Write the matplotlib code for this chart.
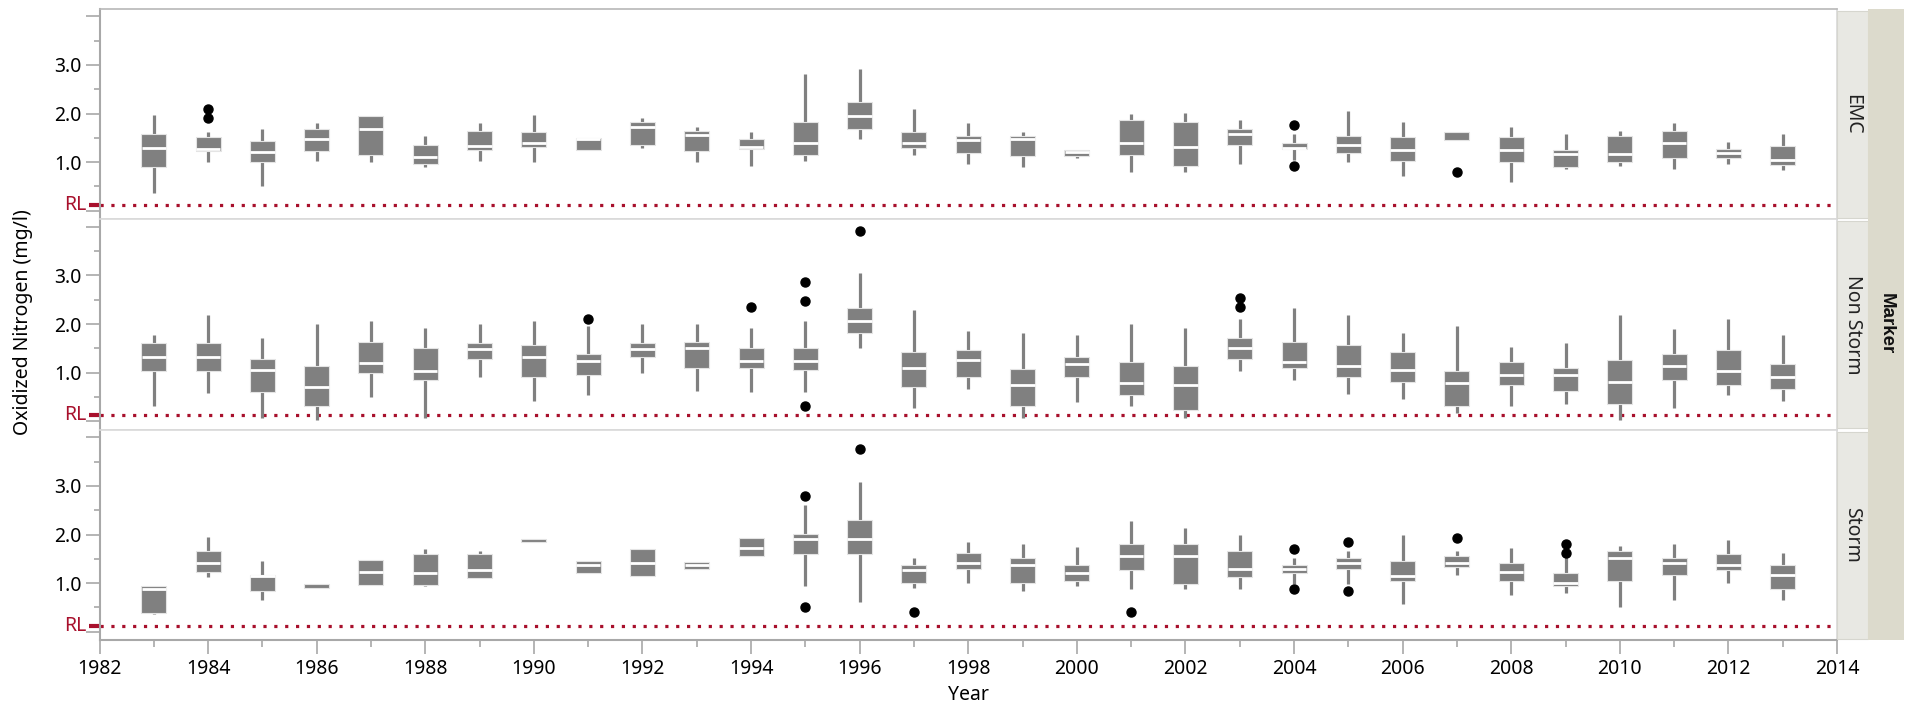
import numpy as np
import matplotlib.pyplot as plt
from matplotlib.transforms import blended_transform_factory
from matplotlib.patches import Rectangle

plt.rcParams['font.family'] = ['Noto Sans', 'DejaVu Sans']

years = list(range(1983, 2014))
markers = ['EMC', 'Non Storm', 'Storm']
rl_value = 0.12

# box summaries per year: whisker low, q1, median, q3, whisker high
emc_lo = [0.36, 1.01, 0.50, 1.03, 1.00, 0.90, 1.03, 1.00, 1.25, 1.30, 1.00, 0.93, 1.03, 1.47, 1.14, 0.97,
          0.90, 1.08, 0.79, 0.79, 0.97, 1.05, 1.00, 0.72, 1.46, 0.60, 0.86, 0.93, 0.86, 0.97, 0.84]
emc_q1 = [0.91, 1.22, 1.00, 1.22, 1.14, 0.97, 1.25, 1.32, 1.25, 1.36, 1.22, 1.28, 1.14, 1.69, 1.30, 1.18,
          1.12, 1.12, 1.14, 0.93, 1.36, 1.28, 1.18, 1.03, 1.46, 1.00, 0.90, 1.00, 1.08, 1.08, 0.94]
emc_med = [1.29, 1.27, 1.21, 1.47, 1.68, 1.11, 1.34, 1.39, 1.47, 1.72, 1.55, 1.32, 1.40, 1.95, 1.40, 1.45,
           1.47, 1.20, 1.40, 1.32, 1.58, 1.30, 1.35, 1.24, np.nan, 1.24, 1.17, 1.17, 1.39, 1.19, 1.05]
emc_q3 = [1.58, 1.51, 1.43, 1.68, 1.95, 1.36, 1.65, 1.62, 1.50, 1.83, 1.65, 1.47, 1.83, 2.23, 1.62, 1.54,
          1.54, 1.25, 1.87, 1.83, 1.69, 1.39, 1.54, 1.51, 1.62, 1.51, 1.25, 1.54, 1.65, 1.28, 1.33]
emc_hi = [1.97, 1.62, 1.68, 1.80, 1.95, 1.54, 1.80, 1.97, 1.50, 1.90, 1.72, 1.62, 2.81, 2.91, 2.09, 1.80,
          1.62, 1.25, 2.00, 2.01, 1.87, 1.58, 2.05, 1.83, 1.62, 1.73, 1.58, 1.65, 1.80, 1.41, 1.57]
emc_out_x = [1984, 1984, 2004, 2004, 2007]
emc_out_y = [2.09, 1.90, 1.77, 0.93, 0.79]

ns_lo = [0.32, 0.59, 0.06, 0.02, 0.50, 0.06, 0.92, 0.42, 0.53, 0.99, 0.63, 0.60, 0.60, 1.50, 0.28, 0.67,
         0.06, 0.39, 0.32, 0.06, 1.03, 0.85, 0.56, 0.45, 0.17, 0.32, 0.35, 0.02, 0.28, 0.53, 0.42]
ns_q1 = [1.03, 1.03, 0.60, 0.32, 0.99, 0.85, 1.28, 0.92, 0.96, 1.32, 1.10, 1.10, 1.06, 1.82, 0.71, 0.92,
         0.32, 0.92, 0.53, 0.24, 1.28, 1.10, 0.92, 0.81, 0.32, 0.74, 0.63, 0.35, 0.85, 0.74, 0.67]
ns_med = [1.32, 1.32, 1.06, 0.71, 1.19, 1.03, 1.49, 1.32, 1.24, 1.48, 1.51, 1.24, 1.24, 2.07, 1.10, 1.25,
          0.74, 1.17, 0.78, 0.74, 1.51, 1.22, 1.14, 1.06, 0.78, 0.96, 0.96, 0.81, 1.14, 1.03, 0.92]
ns_q3 = [1.60, 1.60, 1.28, 1.14, 1.64, 1.50, 1.60, 1.57, 1.39, 1.60, 1.64, 1.50, 1.50, 2.33, 1.42, 1.46,
         1.07, 1.32, 1.21, 1.14, 1.71, 1.64, 1.57, 1.42, 1.03, 1.21, 1.10, 1.25, 1.39, 1.46, 1.17]
ns_hi = [1.78, 2.18, 1.71, 2.00, 2.07, 1.92, 2.00, 2.07, 1.96, 2.00, 2.00, 1.92, 2.07, 3.04, 2.29, 1.86,
         1.82, 1.78, 2.00, 1.92, 2.11, 2.33, 2.18, 1.82, 1.96, 1.53, 1.60, 2.18, 1.89, 2.11, 1.78]
ns_out_x = [1991, 1994, 1995, 1995, 1995, 1996, 2003, 2003]
ns_out_y = [2.11, 2.36, 2.87, 2.47, 0.31, 3.91, 2.54, 2.36]

st_lo = [0.36, 1.13, 0.65, 0.90, 0.97, 0.94, 1.11, 1.84, 1.20, 1.15, 1.30, 1.55, 0.94, 0.62, 0.90, 1.01,
         0.83, 0.94, 0.87, 0.87, 0.87, 0.98, 0.98, 0.58, 1.16, 0.76, 0.80, 0.51, 0.65, 1.01, 0.65]
st_q1 = [0.39, 1.23, 0.83, 0.90, 0.97, 0.97, 1.11, 1.84, 1.20, 1.15, 1.30, 1.55, 1.59, 1.59, 1.01, 1.30,
         1.01, 1.05, 1.27, 0.98, 1.12, 1.20, 1.30, 1.05, 1.34, 1.05, 0.94, 1.05, 1.16, 1.27, 0.87]
st_med = [0.88, 1.42, 1.14, np.nan, 1.22, 1.20, 1.27, np.nan, 1.37, 1.41, 1.38, 1.73, 1.91, 1.91, 1.27, 1.42,
          1.37, 1.20, 1.56, 1.56, 1.30, 1.29, 1.42, 1.15, 1.42, 1.23, 1.01, 1.52, 1.42, 1.37, 1.16]
st_q3 = [0.94, 1.66, 1.16, 0.98, 1.48, 1.59, 1.59, 1.91, 1.46, 1.71, 1.44, 1.93, 2.02, 2.29, 1.38, 1.63,
         1.52, 1.38, 1.81, 1.81, 1.66, 1.37, 1.52, 1.45, 1.56, 1.41, 1.20, 1.66, 1.52, 1.59, 1.38]
st_hi = [0.94, 1.95, 1.45, 0.98, 1.48, 1.70, 1.66, 1.91, 1.46, 1.71, 1.44, 1.93, 2.61, 3.08, 1.52, 1.84,
         1.81, 1.74, 2.28, 2.13, 1.99, 1.52, 1.66, 1.99, 1.66, 1.73, 1.55, 1.77, 1.81, 1.88, 1.62]
st_out_x = [1995, 1995, 1996, 1997, 2001, 2004, 2004, 2005, 2005, 2007, 2009, 2009]
st_out_y = [2.79, 0.51, 3.76, 0.41, 0.41, 1.70, 0.87, 1.84, 0.83, 1.92, 1.81, 1.63]

panels = [
    (emc_lo, emc_q1, emc_med, emc_q3, emc_hi, emc_out_x, emc_out_y),
    (ns_lo, ns_q1, ns_med, ns_q3, ns_hi, ns_out_x, ns_out_y),
    (st_lo, st_q1, st_med, st_q3, st_hi, st_out_x, st_out_y),
]

box_grey = '#808080'
rl_red = '#a8102c'
axis_grey = '#a8a8a8'
light_line = '#d9d9d9'

W, H = 1913, 715
fig = plt.figure(figsize=(W / 100, H / 100), dpi=100)

left = 99.5 / W
width = (1837 - 99.5) / W
tops = [9, 219.5, 430]
panel_h = 210.0

axes = []
for i, (lo, q1, med, q3, hi, ox, oy) in enumerate(panels):
    bottom = 1 - (tops[i] + panel_h) / H
    ax = fig.add_axes([left, bottom, width, panel_h / H])
    axes.append(ax)
    x = np.array(years)
    q1 = np.array(q1)
    q3 = np.array(q3)

    # whiskers, boxes, medians, outliers
    ax.vlines(x, lo, hi, color=box_grey, lw=2.3, zorder=2)
    ax.bar(x, q3 - q1, bottom=q1, width=0.46, color=box_grey, edgecolor='#e4e4e4', lw=0.8, zorder=3)
    ax.hlines(med, x - 0.225, x + 0.225, color='white', lw=2.0, zorder=4)
    ax.plot(ox, oy, 'o', color='black', ms=6.5, zorder=5)

    # reporting limit
    ax.axhline(rl_value, color=rl_red, lw=2.3, linestyle=(0, (1, 2.4)), dash_capstyle='butt', zorder=1)
    tr = blended_transform_factory(ax.transAxes, ax.transData)
    ax.plot([-0.0058, 0], [rl_value, rl_value], transform=tr, color=rl_red, lw=3, clip_on=False,
            solid_capstyle='butt')
    ax.text(-0.0075, rl_value, 'RL', transform=tr, ha='right', va='center', color=rl_red, fontsize=14)

    ax.set_xlim(1982, 2014)
    ax.set_ylim(-0.17, 4.15)
    ax.set_yticks([0, 1, 2, 3, 4])
    ax.set_yticklabels(['', '1.0', '2.0', '3.0', ''])
    ax.set_yticks([0.5, 1.5, 2.5, 3.5], minor=True)
    ax.tick_params(axis='y', which='major', length=10, width=1.2, color=axis_grey, labelsize=14, pad=3)
    ax.tick_params(axis='y', which='minor', length=4, width=1.2, color=axis_grey)

    for s in ['top', 'right', 'bottom']:
        ax.spines[s].set_color(light_line)
        ax.spines[s].set_linewidth(1.2)
    ax.spines['left'].set_color(axis_grey)
    ax.spines['left'].set_linewidth(1.5)
    if i == 0:
        ax.spines['top'].set_color('#b8b8b8')

    if i < 2:
        ax.set_xticks([])
    else:
        ax.spines['bottom'].set_color(axis_grey)
        ax.spines['bottom'].set_linewidth(1.5)
        ax.set_xticks(range(1982, 2015, 2))
        ax.set_xticks(range(1983, 2014, 2), minor=True)
        ax.tick_params(axis='x', which='major', length=10, width=1.2, color=axis_grey, labelsize=14, pad=4)
        ax.tick_params(axis='x', which='minor', length=5, width=1.2, color=axis_grey)
        ax.set_xlabel('Year', fontsize=14, labelpad=4)

    # strip cell with the marker name
    sb = 1 - (tops[i] + panel_h - 1.5) / H
    fig.patches.append(Rectangle((1837 / W, sb), 31 / W, (panel_h - 3) / H, transform=fig.transFigure,
                                 facecolor='#e8e8e3', edgecolor='#d6d6cf', lw=0.8))
    fig.text(1852.5 / W, sb + (panel_h - 3) / H / 2, markers[i], rotation=270, ha='center', va='center',
             fontsize=14, color='#222222')

# outer grouping strip
fig.patches.append(Rectangle((1868 / W, 1 - 639.5 / H), 36 / W, 630.5 / H, transform=fig.transFigure,
                             facecolor='#dcdacc', edgecolor='none'))
fig.text(1886 / W, 1 - 324 / H, 'Marker', rotation=270, ha='center', va='center', fontsize=13.5,
         fontweight='bold', family=['Liberation Sans', 'DejaVu Sans'], color='#111111')

fig.text(23 / W, 1 - 322 / H, 'Oxidized Nitrogen (mg/l)', rotation=90, ha='center', va='center', fontsize=14)

fig.savefig('out.png', dpi=100)
